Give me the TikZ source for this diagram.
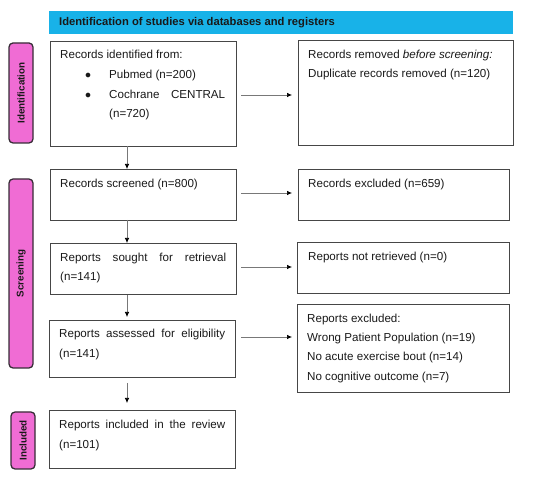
\documentclass[tikz,border=0pt]{standalone}
\usepackage{fontspec}
\setmainfont{Liberation Sans}
\usetikzlibrary{arrows.meta,calc}
\definecolor{bannerblue}{RGB}{24,178,232}
\definecolor{pinkfill}{RGB}{240,108,212}
\definecolor{labborder}{RGB}{55,45,55}
\definecolor{boxborder}{RGB}{70,70,70}
\definecolor{txtcol}{RGB}{25,25,25}
\definecolor{arrowgrey}{RGB}{120,120,120}
\tikzset{
  box/.style={draw=boxborder, line width=0.9pt, inner sep=0pt, outer sep=0pt, anchor=north west},
  lab/.style={draw=labborder, line width=1.3pt, fill=pinkfill, rounded corners=4pt, inner sep=0pt, rotate=90, text=txtcol, font=\bfseries\fontsize{9.8}{11}\selectfont},
  txt/.style={anchor=base west, inner sep=0pt, text=txtcol, font=\fontsize{11.6}{13}\selectfont},
  flow/.style={draw=arrowgrey, line width=0.7pt, -{Latex[black,length=5pt,width=4.5pt]}}
}
\begin{document}
\begin{tikzpicture}[x=1pt,y=-1pt]
\useasboundingbox (0,0) rectangle (550,478);
% banner
\node[anchor=north west, fill=bannerblue, minimum width=464pt, minimum height=23pt, inner sep=0pt] (banner) at (49,11) {};
\node[anchor=base west, inner sep=0pt, text=txtcol, font=\bfseries\fontsize{11.2}{13}\selectfont] (bannertxt) at (59,26) {Identification of studies via databases and registers};
% stage labels
\node[lab, minimum width=100pt, minimum height=24pt] (lid) at (21,93) {Identification};
\node[lab, minimum width=189pt, minimum height=24pt] (lsc) at (21,273.5) {Screening};
\node[lab, minimum width=57pt, minimum height=24pt] (lin) at (23,440.5) {Included};
% left boxes
\node[box, minimum width=186pt, minimum height=105pt] (b1) at (50,41) {};
\node[box, minimum width=186pt, minimum height=51pt] (b2) at (50,169) {};
\node[box, minimum width=186pt, minimum height=51pt] (b3) at (50,243) {};
\node[box, minimum width=186pt, minimum height=57pt] (b4) at (49,320) {};
\node[box, minimum width=186pt, minimum height=58pt] (b5) at (49,410) {};
% right boxes
\node[box, minimum width=215pt, minimum height=105pt] (r1) at (298,40) {};
\node[box, minimum width=211pt, minimum height=51pt] (r2) at (298,169) {};
\node[box, minimum width=212pt, minimum height=51pt] (r3) at (297,242) {};
\node[box, minimum width=212pt, minimum height=88pt] (r4) at (297,304) {};
% texts left
\node[txt] (t1a) at (60,59) {Records identified from:};
\node[txt] (t1b) at (85,79) {$\bullet$};
\node[txt] (t1c) at (109,79) {Pubmed (n=200)};
\node[txt] (t1d) at (85,99) {$\bullet$};
\node[txt] (t1e) at (109,99) {\makebox[116pt][s]{Cochrane CENTRAL}};
\node[txt] (t1f) at (109,118) {(n=720)};
\node[txt] (t2a) at (60,188) {Records screened (n=800)};
\node[txt] (t3a) at (60,262) {\makebox[166pt][s]{Reports sought for retrieval}};
\node[txt] (t3b) at (60,281) {(n=141)};
\node[txt] (t4a) at (59,338) {\makebox[166pt][s]{Reports assessed for eligibility}};
\node[txt] (t4b) at (59,358) {(n=141)};
\node[txt] (t5a) at (59,429) {\makebox[166pt][s]{Reports included in the review}};
\node[txt] (t5b) at (59,449) {(n=101)};
% texts right
\node[txt] (u1a) at (308,59) {Records removed \textit{before screening:}};
\node[txt] (u1b) at (308,78) {Duplicate records removed (n=120)};
\node[txt] (u2a) at (308,188) {Records excluded (n=659)};
\node[txt] (u3a) at (308,261) {Reports not retrieved (n=0)};
\node[txt] (u4a) at (307,323) {Reports excluded:};
\node[txt] (u4b) at (307,342) {Wrong Patient Population (n=19)};
\node[txt] (u4c) at (307,361) {No acute exercise bout (n=14)};
\node[txt] (u4d) at (307,381) {No cognitive outcome (n=7)};
% horizontal arrows
\draw[flow, shorten <=5pt, shorten >=6pt] ([yshift=-1.5pt]b1.east) -- ([yshift=-1.5pt]b1.east -| r1.west);
\draw[flow, shorten <=5pt, shorten >=6pt] ([yshift=1.5pt]b2.east) -- ([yshift=1.5pt]b2.east -| r2.west);
\draw[flow, shorten <=5pt, shorten >=5pt] ([yshift=1.5pt]b3.east) -- ([yshift=1.5pt]b3.east -| r3.west);
\draw[flow, shorten <=6pt, shorten >=5pt] ([yshift=11.5pt]b4.east) -- ([yshift=11.5pt]b4.east -| r4.west);
% vertical arrows
\draw[flow] ([xshift=-16pt]b1.south) -- ([xshift=-16pt]b1.south |- b2.north);
\draw[flow] ([xshift=-16pt]b2.south) -- ([xshift=-16pt]b2.south |- b3.north);
\draw[flow, shorten <=1pt, shorten >=3pt] ([xshift=-16pt]b3.south) -- ([xshift=-16pt]b3.south |- b4.north);
\draw[flow, shorten <=6pt, shorten >=7pt] ([xshift=-15pt]b4.south) -- ([xshift=-15pt]b4.south |- b5.north);
\end{tikzpicture}
\end{document}
